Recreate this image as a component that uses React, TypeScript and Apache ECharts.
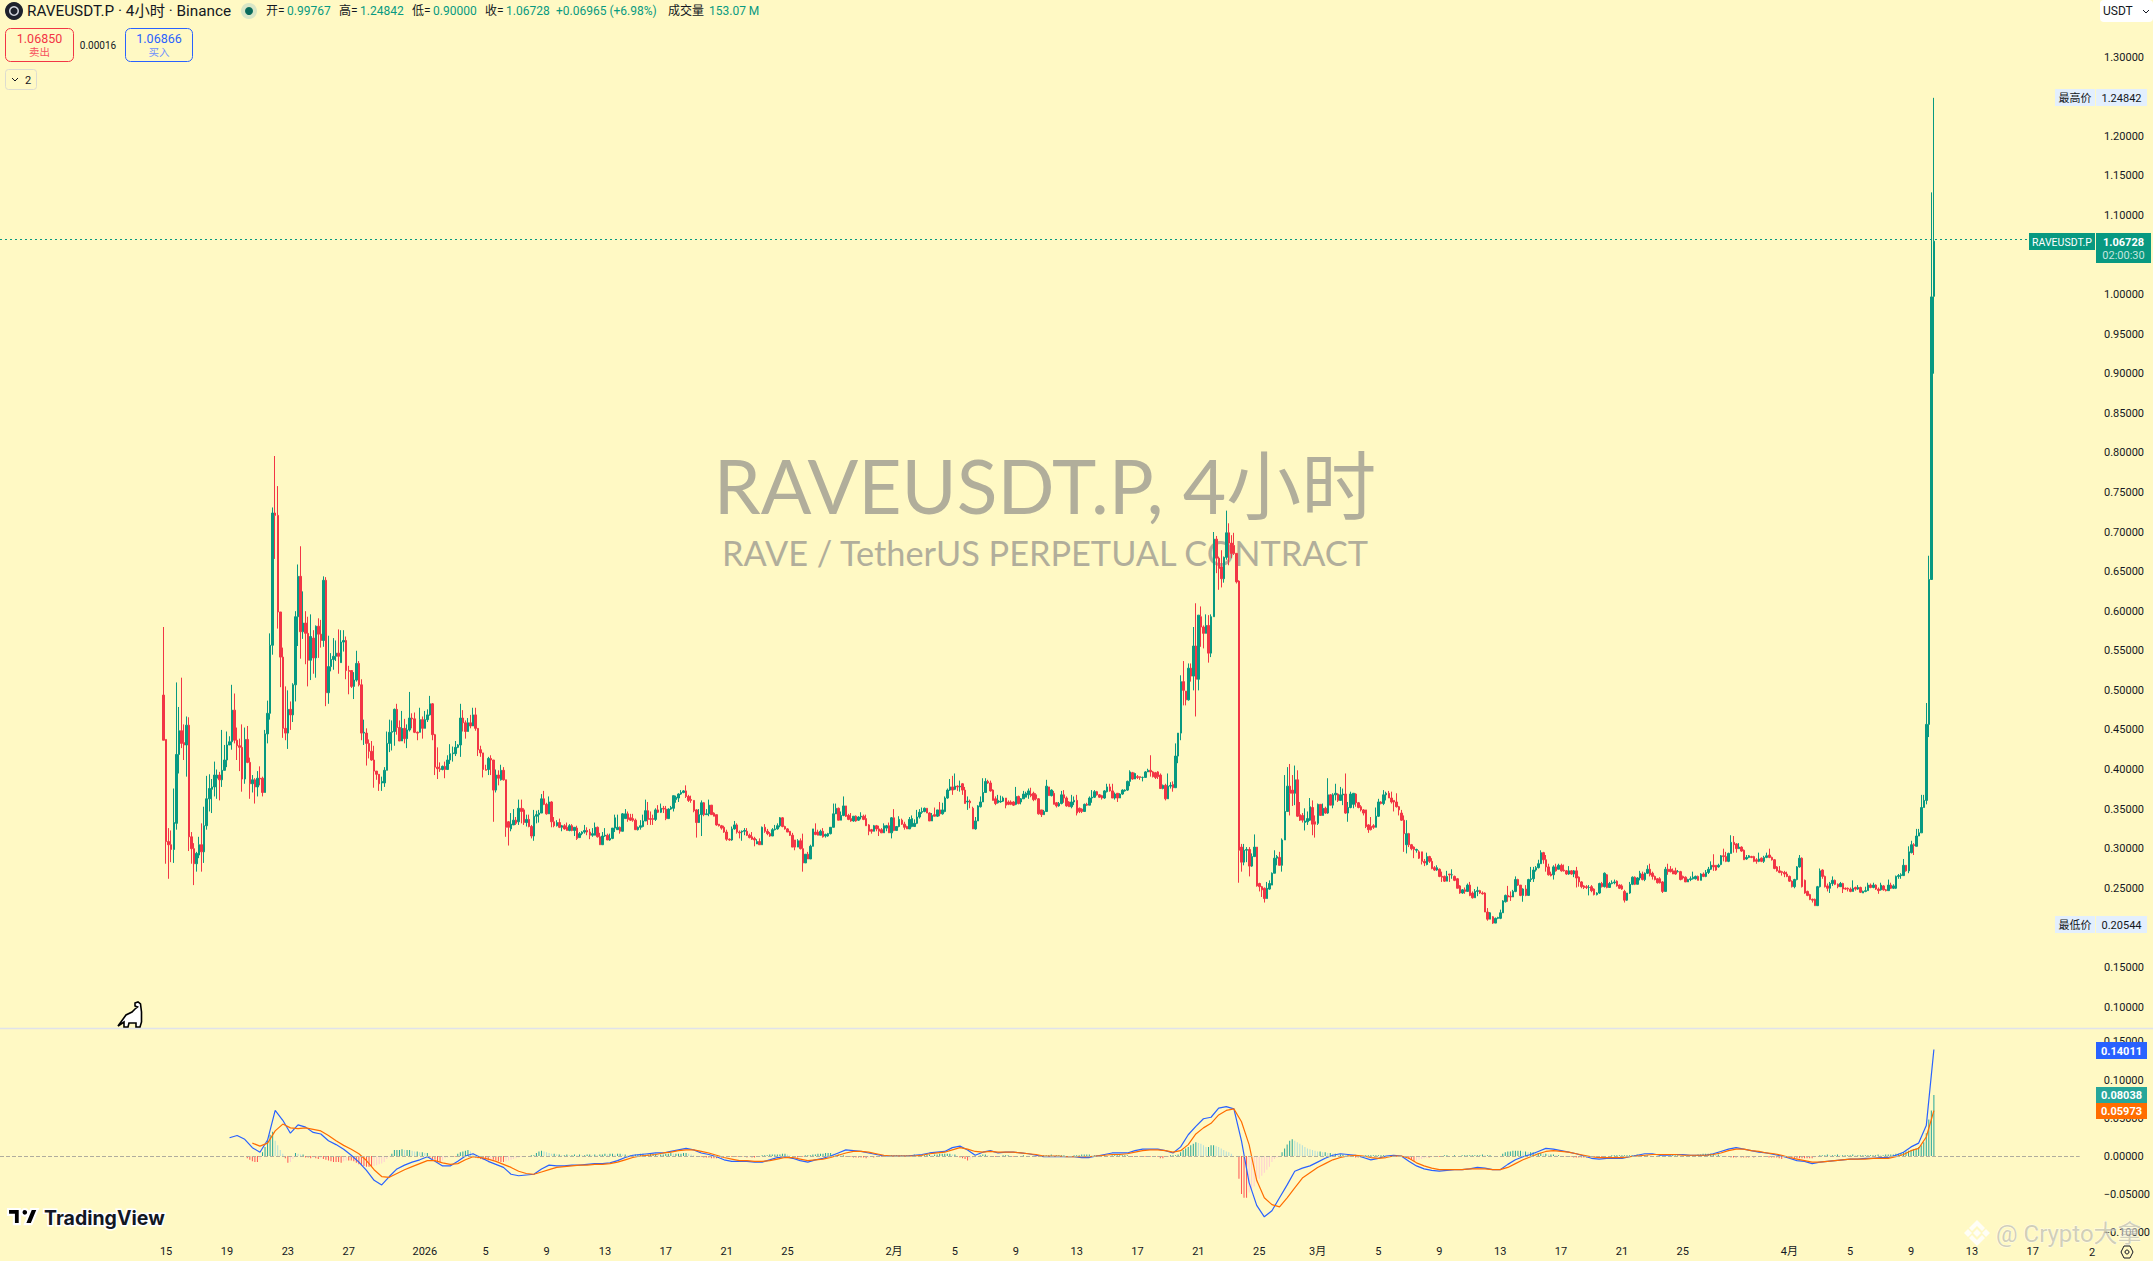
import React, { useEffect, useRef } from "react";
import * as echarts from "echarts";

// Candles: [open, close, low, high] in thousandths of a USDT.
const candlesDecember = [
[494,437,437,580],[438,309,281,438],[309,305,262,326],[305,299,283,323],[299,333,282,376],[332,419,324,510],[419,449,395,479],[449,433,427,516],[434,431,412,457],[431,456,391,467],
[456,315,297,466],[315,300,281,321],[300,281,254,307],[281,294,271,296],[292,305,288,315],[305,296,271,332],[296,329,282,353],[329,363,324,392],[363,376,347,394],[375,378,345,388],
[378,393,366,410],[389,393,363,400],[393,387,361,397],[387,399,378,450],[399,412,399,431],[412,431,403,448],[431,435,431,442],[435,475,425,507],[475,437,433,496],[437,430,412,453],
[430,428,398,439],[428,388,372,457],[388,438,382,453],[438,409,408,455],[409,382,363,415],[382,387,371,393],[387,378,357,389],[378,389,366,398],[389,388,380,404],[389,371,366,391],
[371,445,371,450],[445,471,433,487],[471,557,463,572],[557,724,545,731],[724,721,666,796],[721,599,578,758],[599,542,504,599],[542,452,440,554],[452,446,437,505],[446,476,426,500],
[476,469,450,486],[469,507,460,509],[507,593,486,600],[593,644,556,659],[644,574,540,682],[574,585,565,625],[585,572,533,600],[572,538,505,593],[538,568,513,596],[566,541,521,576],
[541,581,516,582],[581,571,541,591],[571,563,554,589],[563,639,555,644],[639,497,480,643],[497,530,483,569],[530,539,524,547],[539,543,526,566],[543,547,537,563],[547,543,521,577],
[535,561,535,576],[561,563,549,576],[563,525,514,568],[525,524,495,531],[525,505,503,525],[505,513,489,523],[513,534,511,550],[534,507,505,537],[507,446,437,514],[446,447,431,463],
[446,433,405,452],[433,423,414,438],[423,412,411,436],[412,398,377,430],[398,394,387,398],[394,382,373,394],[383,385,373,391],[383,399,378,403],[399,433,399,448],[433,447,422,463],
[447,448,424,462],[448,476,430,477],[476,453,444,483],[453,436,436,462],[436,452,436,474],[452,439,433,464],[439,450,427,457],[450,465,448,498],[465,464,452,471],[464,447,446,472],
[447,446,437,448],[447,463,447,478],[463,452,439,467],[452,463,452,474],[463,469,460,476],[469,483,468,493],[483,444,437,484],[444,403,393,445],[403,401,388,428],[401,400,397,409],
[400,404,399,405],[404,400,389,410],[400,412,400,418],[412,420,407,432],[420,421,410,429],[420,428,417,436],[428,431,427,432],[431,465,416,483],[465,459,448,475],[459,448,439,462],
[448,459,448,465],[459,455,452,469],[455,469,455,478],[469,452,449,478],[452,425,417,452],[425,421,416,430],[421,400,390,421],[400,399,399,406],[400,414,393,416],[414,412,393,418],
[412,374,334,412],[374,393,371,400],[393,389,380,399],
];
const candlesJanuary = [
[387,399,386,406],[399,387,386,403],[387,327,315,387],[334,327,304,335],[325,331,322,345],[330,336,330,350],[336,332,330,340],[334,351,330,362],[351,347,332,362],[349,333,330,351],
[333,337,328,343],[337,328,327,343],[328,316,313,330],[316,341,310,349],[341,343,332,348],[343,345,333,349],[345,363,345,369],[363,356,355,373],[356,344,343,358],[344,359,344,366],
[359,334,327,360],[334,329,327,340],[329,333,328,336],[333,327,326,338],[327,329,322,330],[329,325,324,331],[327,323,323,333],[323,329,322,331],[329,323,322,331],[323,327,316,327],
[326,313,311,329],[314,319,314,321],[319,321,317,322],[321,323,319,330],[323,321,317,327],[321,317,312,325],[317,319,315,326],[317,327,317,333],[327,315,314,328],[315,305,305,320],
[305,316,305,321],[316,317,315,326],[317,311,311,319],[311,313,310,319],[313,326,312,326],[326,339,321,343],[324,327,324,343],[327,322,319,328],[322,344,322,345],[338,344,338,350],
[344,337,334,347],[339,336,335,344],[338,336,334,344],[336,324,324,338],[324,327,323,328],[327,329,324,336],[328,335,327,343],[335,348,335,362],[348,337,330,359],[338,337,330,347],
[338,337,330,343],[337,349,335,351],[349,346,345,355],[346,351,345,357],[351,350,345,354],[350,338,336,354],[338,350,338,351],[350,352,349,354],[351,367,347,367],[362,365,358,367],
[364,369,359,370],[369,371,368,374],[371,373,370,374],[373,366,364,380],[366,361,359,368],[362,361,358,367],[361,348,346,361],[349,333,314,350],[333,343,335,350],[343,358,316,361],
[358,343,341,359],[343,344,343,350],[344,355,341,362],[355,343,343,355],[345,341,341,346],[343,330,329,343],[331,329,328,331],[329,326,324,330],[327,321,320,329],[321,312,310,324],
[312,311,310,313],[311,325,310,328],[325,330,324,335],[330,321,319,332],[321,320,313,323],[321,322,310,323],[322,323,317,326],[322,317,316,326],[317,314,313,319],[315,312,311,321],
[313,311,303,315],[306,309,306,312],[309,305,305,313],[305,327,305,328],[327,322,320,331],[322,319,317,325],[319,316,315,321],[316,324,316,326],[324,325,323,330],[325,329,324,332],
[329,339,327,340],[339,328,327,340],[328,325,324,329],[325,321,321,326],[322,317,316,322],[317,302,302,320],[311,302,298,311],[302,310,302,312],[310,300,299,313],[300,282,271,319],
[282,293,282,293],[293,287,287,296],[287,303,287,305],[303,325,303,325],[321,318,317,332],[321,317,317,324],[317,322,317,324],[322,315,314,326],[316,318,314,319],[316,319,315,320],
[319,327,318,327],[327,344,327,357],[344,351,345,357],[351,336,336,352],[336,342,336,347],[342,354,341,366],[354,341,340,354],[342,337,336,344],[338,335,334,345],[335,341,334,341],
[341,335,334,342],[336,340,335,341],[340,341,337,346],[341,337,336,343],[338,329,329,343],[330,322,317,331],[324,322,319,325],[322,329,322,330],[329,325,322,330],[325,322,316,329],
[324,320,320,326],[320,329,320,332],[326,329,322,330],[329,320,320,333],[320,339,313,340],[339,323,322,350],[323,328,323,328],[328,337,327,341],[336,331,330,338],[331,327,324,334],
[328,325,325,329],[325,337,325,340],[328,338,327,342],[328,332,328,337],[332,340,331,349],[340,346,338,350],[346,347,344,352],[347,351,346,352],[351,345,345,351],[345,335,335,346],
[335,342,335,345],[343,341,341,352],[341,349,340,349],[349,344,341,359],[344,349,343,358],[347,364,346,366],[364,374,363,376],[374,378,373,388],[378,374,368,392],[375,379,374,395],
[379,378,373,380],[378,379,372,386],[382,374,368,383],[374,357,357,378],[359,360,349,366],[360,358,351,362],[351,325,325,353],[325,335,324,340],[335,354,335,355],[353,359,352,366],
[359,371,359,389],[371,385,371,389],[385,383,382,387],[383,373,372,386],[374,361,361,375],[363,357,355,366],[358,361,357,368],[359,360,358,367],[360,364,359,366],[364,355,351,364],
[359,356,355,361],[359,356,355,361],[359,355,354,360],[356,366,355,378],[366,357,356,367],
];
const candlesFebruary = [
[359,363,356,364],[363,369,363,373],[365,370,365,372],[368,373,363,376],[369,367,365,377],[370,362,360,372],[368,363,361,370],[363,344,343,364],[349,343,340,349],[343,347,343,349],
[347,379,347,387],[378,367,367,378],[367,374,366,375],[370,356,356,373],[358,354,352,359],[354,357,353,359],[357,368,356,373],[368,364,358,374],[364,354,353,366],[359,353,353,360],
[353,359,351,368],[359,361,355,366],[361,345,342,368],[351,347,345,352],[350,347,345,351],[347,356,347,357],[356,355,354,358],[355,364,355,366],[364,365,358,374],[365,372,364,374],
[372,368,367,373],[368,365,364,369],[367,364,362,368],[364,373,363,374],[372,378,371,382],[378,373,372,382],[373,364,364,382],[364,369,362,371],[370,364,359,370],[364,369,364,370],
[369,374,368,375],[373,374,372,375],[374,385,373,386],[385,397,379,399],[396,388,387,397],[388,395,388,396],[391,390,388,393],[391,390,387,391],[390,390,385,391],[390,397,390,398],
[397,399,397,401],[399,397,391,418],[397,391,390,398],[396,390,388,397],[397,391,388,398],[393,376,376,395],[376,380,375,381],[380,363,361,382],[363,379,363,395],[379,380,376,384],
[381,377,372,385],[377,417,377,433],[417,446,408,446],[446,511,437,519],[511,500,481,537],[499,488,481,498],[488,528,487,534],[528,518,511,534],[518,556,500,580],[556,514,467,610],
[514,595,500,595],[593,580,555,606],[580,572,553,582],[572,582,572,596],[582,547,535,595],[547,593,542,596],[593,691,593,700],[691,667,648,695],[667,654,627,669],[656,641,630,677],
[641,668,636,669],[668,699,665,727],[699,686,658,711],[686,673,667,696],[683,673,671,699],[673,637,635,673],[638,298,257,639],[302,283,271,306],[283,298,279,306],[298,299,283,302],
[299,278,265,302],[278,290,277,294],[290,302,290,318],[302,253,252,302],[256,252,246,257],[252,248,239,253],[250,237,232,251],[237,250,237,258],[249,256,248,260],[254,269,254,270],
[269,288,269,298],[288,290,279,292],[289,279,279,296],[279,311,271,313],[311,347,311,393],[347,379,347,403],[379,370,342,407],[374,370,354,393],[370,387,355,405],[387,341,340,399],
[343,336,335,359],[342,336,333,345],[333,335,323,351],[334,338,330,347],[336,353,335,364],[352,331,317,361],[334,331,314,342],[332,356,330,357],[356,342,342,356],[342,351,342,357],
[351,345,344,353],[345,368,344,389],[368,355,355,369],[355,368,351,370],[368,370,361,382],[369,361,359,370],[361,368,361,378],[368,369,355,376],[369,345,344,395],[345,352,334,359],
[352,369,351,372],[356,370,351,370],[369,358,353,370],[358,352,351,359],[353,349,347,355],[349,345,342,350],[349,328,326,349],[330,324,320,331],[328,324,323,340],[329,327,325,331],
[327,341,327,352],[341,359,340,363],[359,357,356,360],[357,368,355,374],[368,370,361,372],[370,364,364,373],[364,359,357,372],[361,359,347,361],[359,353,352,370],[353,349,342,354],
[345,336,335,349],[336,319,296,342],[305,319,294,336],[319,305,302,320],[305,300,298,306],[302,299,288,303],[298,299,295,300],[296,288,287,298],
];
const candlesMarch = [
[296,284,280,296],[284,282,278,287],[280,290,279,295],[290,284,282,291],[284,275,274,288],[276,273,272,278],[273,276,272,279],[274,265,264,275],[265,264,258,271],[265,259,258,266],
[259,265,259,272],[268,267,258,268],[267,267,262,274],[265,260,259,266],[262,250,250,263],[253,244,243,254],[244,248,243,249],[248,246,243,251],[246,254,246,256],[254,241,240,258],
[244,238,237,246],[238,246,238,249],[246,247,240,252],[247,244,243,248],[244,243,242,246],[244,220,220,245],[220,211,209,225],[211,219,211,220],[214,206,205,215],[206,212,206,213],
[212,213,211,214],[212,219,211,223],[219,234,219,235],[233,241,232,242],[241,239,233,253],[240,239,234,246],[239,246,239,248],[246,261,245,265],[261,254,253,262],[254,241,240,254],
[241,249,233,250],[249,241,240,254],[241,261,241,262],[261,262,258,277],[262,273,258,277],[273,276,271,278],[276,281,275,286],[281,295,281,298],[295,286,281,296],[286,277,271,292],
[277,267,266,281],[268,266,265,271],[267,277,261,279],[277,272,271,281],[274,279,274,281],[279,272,271,281],[273,272,271,280],[272,268,267,273],[268,272,267,278],[272,268,267,273],
[268,272,264,273],[272,263,251,277],[264,258,252,265],[258,252,250,259],[253,251,249,254],[252,251,249,254],[251,251,241,254],[252,247,245,254],[249,242,241,250],[242,244,241,245],
[244,256,243,257],[256,252,251,258],[252,269,251,270],[267,251,250,268],[251,256,251,258],[256,257,255,260],[257,258,255,261],[259,253,252,260],[254,250,249,255],[253,249,248,255],
[246,235,232,248],[235,244,234,244],[244,255,243,258],[255,264,254,265],[264,255,254,265],[255,263,255,264],[263,269,260,272],[268,261,260,271],[261,269,259,270],[269,274,268,279],
[274,267,265,281],[269,265,261,271],[265,261,260,266],[262,257,256,263],[262,257,256,264],[258,246,244,259],[246,274,246,277],[274,271,267,281],[274,271,270,278],[272,268,268,275],
[272,268,267,276],[271,271,270,273],[271,261,260,272],[265,263,261,266],[264,258,258,265],[258,261,258,262],[261,262,259,265],[262,264,261,271],[262,265,261,266],[265,260,260,266],
[260,268,260,269],[268,265,264,270],[265,270,264,273],[270,274,268,277],[274,279,273,284],[279,277,272,293],[279,273,272,279],[277,279,276,281],[280,291,279,292],[291,290,284,300],
[290,284,283,296],[284,294,283,295],[294,308,294,317],[308,305,295,316],[306,300,295,307],[300,302,300,307],[302,297,296,303],[298,286,286,299],[287,289,286,292],[289,291,288,292],
[290,289,288,291],[290,284,283,291],[286,284,281,288],[284,287,283,295],[288,284,283,289],[284,289,282,291],[289,291,288,295],[292,289,288,300],[289,286,285,290],[286,275,274,287],
[277,272,271,278],[272,270,269,278],[271,270,266,272],[270,268,264,272],[268,265,264,271],[265,259,258,266],[259,252,251,260],[252,261,250,262],[261,277,260,278],[277,288,276,292],
[288,252,251,289],[260,244,243,261],[246,241,240,247],[242,236,235,243],[236,235,232,237],[236,228,228,237],[228,252,228,253],[252,272,251,275],[273,265,262,274],[265,252,251,266],
[253,250,246,256],[250,256,244,258],[256,260,253,265],[260,255,254,261],[255,252,250,256],[252,256,252,258],[256,249,244,257],[250,249,248,251],[250,249,246,251],[249,246,245,251],
[246,250,246,260],[251,249,247,252],[249,251,248,254],[251,245,244,252],[244,246,244,247],[246,247,245,252],[247,254,247,257],[254,251,250,256],[251,254,250,257],[254,249,248,255],
[249,247,243,251],[248,254,247,257],[253,248,247,254],[248,247,246,249],[247,254,247,261],[254,250,249,257],[250,253,249,255],[250,265,249,266],[265,266,262,268],[266,267,262,269],
[266,279,266,287],[279,272,271,279],[272,296,269,303],[295,305,294,310],[305,304,292,307],[303,316,303,325],[316,320,316,325],[320,352,320,368],[352,361,352,368],[361,457,356,484],
[457,640,441,670],[640,997,640,1129],[997.67,1067.28,900,1248.42],
];

const candleSegments: [number, (number[])[]][] = [[0, candlesDecember], [133, candlesJanuary], [338, candlesFebruary], [496, candlesMarch]];

// MACD lines in thousandths, read every third bar.
const macdEarly = [24,27,22,11,5,21,60,47,30,41,38,31,29,20,15,9,1,-8,-19,-32,-38,-27,-17,-12,-8,-5,-1,-7,-13,-13,-7,0,3,-2,-7,-11,-15,-24,-26,-25,-24,-17,-12,-13,-13,-12,-12,-11,-10,-10,-9,-6,-2,1,2,3,4,4,6,8,10,8,4,2,-1,-5,-7,-7,-7,-8,-8,-5,-2,-1,-3,-6,-8,-5,-3,0,4,8,7,6,4,2,0,0,0,0,1,2,4,5,6,11,13,8,1,5,7,4];
const macdLate = [5,5,4,3,1,-1,-1,-1,-1,-1,-2,-2,0,2,4,4,4,7,9,9,9,7,4,12,28,39,49,51,63,65,62,20,-35,-65,-80,-72,-55,-38,-20,-16,-13,-8,-3,1,3,2,1,-2,-5,-3,0,1,0,-7,-13,-17,-19,-20,-19,-18,-18,-17,-15,-16,-18,-18,-11,-5,-1,2,6,10,9,7,5,3,0,-3,-4,-3,-3,-3,-1,1,3,3,1,1,2,2,1,1,1,3,6,9,11,9,7,5,4,2,0,-3,-6,-7,-10,-8,-7,-6,-5,-4,-4,-3,-3,-2,-2,1,5,12,17,40,140.11];
const signalEarly = [17,13,17,33,42,37,36,37,35,33,27,20,14,9,3,-6,-18,-27,-28,-23,-18,-14,-10,-6,-6,-9,-11,-10,-5,-1,-2,-4,-7,-11,-15,-20,-23,-24,-21,-18,-15,-14,-13,-12,-12,-11,-11,-10,-8,-5,-2,0,1,2,4,5,7,8,8,6,4,1,-2,-4,-6,-6,-7,-7,-6,-4,-2,-2,-4,-6,-5,-4,-2,1,4,6,6,5,3,1,0,0,0,0,1,3,4,5,8,11,9,6,5,6,5];
const signalLate = [5,5,4,3,2,0,0,0,-1,-1,-1,-1,0,1,2,2,3,5,7,8,8,7,5,7,15,29,37,43,54,60,62,45,15,-32,-55,-64,-67,-55,-42,-29,-22,-15,-10,-5,-2,0,1,0,-2,-3,-2,0,0,-3,-9,-13,-16,-18,-18,-18,-18,-17,-17,-17,-18,-18,-15,-10,-5,-1,3,6,7,6,5,3,1,-1,-2,-2,-2,-2,-1,0,1,2,2,2,2,1,1,1,1,2,4,7,9,9,7,6,4,3,1,-2,-4,-6,-8,-8,-7,-6,-5,-4,-4,-4,-3,-3,-3,-1,2,7,10,25,59.73];

// MACD histogram in thousandths: [first bar, values per bar].
const histogramEarly: [number, number[]][] = [
  [33, [-3,-5,-7,-8,-8,-5]],
  [39, [5,12,20,28,32,20,14,8,3]],
  [48, [-3,-9,-8,-4]],
  [52, [4,3,2,2]],
  [56, [-2,-2,-3,-2,-3,-4,-3,-4,-5,-6,-7,-8,-8,-8,-9,-7,-6,-6,-6,-7,-9,-11,-12,-13,-14,-14,-14,-13,-12,-11,-10,-8,-4,-1]],
  [90, [3,8,8,8,9,8,8,8,7,6,6,5,5,4,4]],
  [105, [-2,-4,-5,-7,-8,-6,-3,-2,-1,-1,-1]],
  [116, [3,5,6,7,8,6,3]],
  [123, [-2,-3,-4,-5,-5,-6,-5,-5,-6,-7,-8,-8,-7,-6,-5,-4,-3,-2,-1,-1,0,0,1,1]],
  [147, [4,6,7,6,5,4,3,3,2,2,1,1,2,1,1,2,1,2,1,1,2,2,1,2,1,2,2,3,2,3,3,2,3,3,2,2,1,1,1,2,2,3,3,2,2,3,3,3,2,2,2,3,3,4,3,3,3,3,4,4,3,2,1,0,-1,-1,-2]],
  [214, [-2,-2,-3,-3,-3,-2,-2,-1,-1,-1,-1,-1,-1,-1,-1,-1,-2,-1,-2,-2,-1,-1,1,1,1,2,2,2,2,2,3,3,2,1,-1,-2,-2,-1,-1,1,1,1,2,2,3,3,3,4,4,4,3,2,2,1,1,-1,-1,-1,-2,-2,-2,-2,-2,-3,-2,-1,-2,-1,-1,-1,1,0]],
  [286, [0,1,1,1,1,1,1,1,1,1,2,1,1,1,1,2,2,1,2,2,3,3,3,3,3,2,2,-1,-2,-3,-4,-6,-5,-3,-2,-1,1,2,2,1,-1,-1,-1,0,0]],
];
const histogramLate: [number, number[]][] = [
  [331, [1,1,1,0,-1,-1,0,0,1,0,-1,0,0,-1,-1,0,1,1,1,2,1,1,1,1,1,-1,-1,0,1,1,1,2,2,2,2,1,1,1,1,1,1,0,0,1,1,1,1,1,1,1,-1,-1,-1,-1,-1,-1,-1,-1,-1,-1,-1,-1,-3,-3,-1,-1,1,1,1,2]],
  [401, [5,8,10,12,14,16,18,17,16,14,12,12,14,14,13,12,10,8,6,5,3]],
  [424, [-30,-50,-55,-55,-48,-45,-40,-35,-30,-26,-22,-18,-14,-8,-4,-2]],
  [441, [5,10,15,20,22,20,18,16,14,12,10,9,8,7,6,6,5,5,4,4,3,3,2,2,2]],
  [466, [1,1,0,-1,-2,-2,-1,-1,1,1,1,1,1,1,1,1,0,-1,-1,-1,-1,-1,-1,-1,-2]],
  [491, [-4,-5,-7,-6,-5,-4,-3,-2,-2,-1,-1,-1,-1,-1]],
  [505, [1,1,0,0,1,0,0,1,1,1,1,1,1,1,1,2,1,1,1,0,0,0,0]],
  [528, [3,5,6,6,7,7,7,7,6,6,5,5,5,4,4,4,3,3,2,2,2,1,1,0,0,-1,-1,-1,-2,-2,-2,-2,-2,-2,-1,-1,-1,-1,-1,-1,-1,0,0]],
  [571, [1,1,1,1,1,1,1,1,1,1,2,1,1,1,1,0,0,0,0,1,0,0,0,1,1,1,1,0,0,1,1,1,1,1,2,2,3,3,3,3,3,2,2,1,0,-1,-1,-2,-2,-2,-1,-2,-2,-2,-2,-1,-2,-1,-1,-1]],
  [631, [-1,-1,-2,-2,-2,-2,-3,-4,-3,-2,-2,-3,-3,-3,-3,-3,-3,-3,-3,-3,-2,-1]],
  [653, [1,1,1,2,1,1,1,2,1,1,1,1,1,2,1,1,1,1,1,1,1,1,1,2,1,1,2,2,2]],
  [682, [2,3,3,4,5,6,7,8,9,10,12,14,18,30,48,60,80.38]],
];

// 0.20, 1.05 and 1.25 are hidden under the price tags in the reference.
const priceTicks = [0.1,0.15,0.25,0.3,0.35,0.4,0.45,0.5,0.55,0.6,0.65,0.7,0.75,0.8,0.85,0.9,0.95,1,1.1,1.15,1.2,1.3];
const macdTicks = [-0.1,-0.05,0,0.05,0.1,0.15];
const dateTicks: [string, number][] = [["15",0],["19",4],["23",8],["27",12],["2026",17],["5",21],["9",25],["13",29],["17",33],["21",37],["25",41],["2月",48],["5",52],["9",56],["13",60],["17",64],["21",68],["25",72],["3月",76],["5",80],["9",84],["13",88],["17",92],["21",96],["25",100],["4月",107],["5",111],["9",115],["13",119],["17",123]];
const lastPrice = 1.06728;

const SLOTS = 820;
const BAR0 = 64;
const MACD_FIRST = 26;
const MACD_LATE_FIRST = 332;
const SIGNAL_FIRST = 35;
const BG = "#fff9c4";
const UP = "#089981";
const DOWN = "#f23645";
const FONT = "Roboto, 'Noto Sans CJK SC', sans-serif";
const INK = "#131722";

const candleSlots: any[] = Array.from({ length: SLOTS }, () => ["-", "-", "-", "-"]);
candleSegments.forEach(([start, rows]) => rows.forEach((r, k) => {
  candleSlots[BAR0 + start + k] = r.map((v) => v / 1000);
}));
const xLabels: string[] = Array.from({ length: SLOTS }, () => "");
dateTicks.forEach(([t, d]) => { xLabels[Math.round(65 + d * 5.98)] = t; });

const linePoints = (first: number, vals: number[]) => vals.map((v, k) => [BAR0 + first + 3 * k, v / 1000]);
const histSlots: (number | null)[] = Array.from({ length: SLOTS }, () => null);
[...histogramEarly, ...histogramLate].forEach(([start, vals]) => vals.forEach((v, k) => {
  histSlots[BAR0 + start + k] = v / 1000;
}));
const histData = histSlots.map((v, i) => {
  if (v === null) return null;
  const prev = histSlots[i - 1] ?? 0;
  const color = v >= 0 ? (v >= prev ? "#26a69a" : "#b2dfdb") : (v <= prev ? "#ff5252" : "#ffcdd2");
  return { value: v, itemStyle: { color } };
});

echarts.graphic.registerShape("tvMark", echarts.graphic.extendPath("M14 22H7V11H0V4h14v18zM28 22h-8l7.5-18h8L28 22zM16 8a4 4 0 1 0 8 0a4 4 0 1 0-8 0z" as any, {}) as any);
echarts.graphic.registerShape("dino", echarts.graphic.extendPath("M17 1L20 0L22.5 2L23.5 10L23.5 20L22 25L18 25L18 21L11 21L10 25L6 25L6 20L0 24L8 13L14 10L17 7L19.5 5L17 4Z" as any, {}) as any);

const txt = (text: string, x: number, y: number, fill: string, fontSize: number, extra: any = {}) => ({
  type: "text", x, y, z: 100, silent: true,
  style: { text, fill, fontSize, fontFamily: FONT, align: "left", verticalAlign: "middle", ...extra },
});
const box = (x: number, y: number, width: number, height: number, fill: string, extra: any = {}, r = 0) => ({
  type: "rect", z: 99, silent: true, shape: { x, y, width, height, r }, style: { fill, ...extra },
});
const poly = (points: number[][], fill: string) => ({ type: "polygon", z: 100, silent: true, shape: { points }, style: { fill } });
const LOGO = "rgba(255,255,255,0.85)";

const graphicElements: any[] = [
  { type: "text", x: 1045, y: 485, z: 0, silent: true, style: { text: "RAVEUSDT.P, 4小时", fill: "#b1ae9b", fontSize: 75, fontFamily: "Lato, 'Noto Sans CJK SC', sans-serif", align: "center", verticalAlign: "middle" } },
  { type: "text", x: 1045, y: 552, z: 0, silent: true, style: { text: "RAVE / TetherUS PERPETUAL CONTRACT", fill: "#b1ae9b", fontSize: 34.3, fontFamily: "Lato, sans-serif", align: "center", verticalAlign: "middle" } },

  { type: "line", z: 99, silent: true, shape: { x1: 0, y1: 1028.5, x2: 2153, y2: 1028.5 }, style: { stroke: "#e0e3eb", lineWidth: 1.5 } },

  { type: "circle", z: 99, silent: true, shape: { cx: 14, cy: 11, r: 9 }, style: { fill: "#1e222d" } },
  { type: "ring", z: 100, silent: true, shape: { cx: 14, cy: 11, r: 5, r0: 3.5 }, style: { fill: "#d1d4dc" } },
  txt("RAVEUSDT.P · 4小时 · Binance", 27, 11, INK, 15.3),
  { type: "circle", z: 99, silent: true, shape: { cx: 249, cy: 11, r: 8 }, style: { fill: "#d8e6c6" } },
  { type: "circle", z: 100, silent: true, shape: { cx: 249, cy: 11, r: 4 }, style: { fill: "#0a6b5c" } },
  txt("开=", 266, 11, INK, 12), txt("0.99767", 287, 11, UP, 12),
  txt("高=", 339, 11, INK, 12), txt("1.24842", 360, 11, UP, 12),
  txt("低=", 412, 11, INK, 12), txt("0.90000", 433, 11, UP, 12),
  txt("收=", 485, 11, INK, 12), txt("1.06728", 506, 11, UP, 12),
  txt("+0.06965 (+6.98%)", 556, 11, UP, 12),
  txt("成交量", 668, 11, INK, 12), txt("153.07 M", 709, 11, UP, 12),

  box(5.5, 28.5, 68, 33, BG, { stroke: DOWN, lineWidth: 1 }, 5),
  txt("1.06850", 39.5, 38, DOWN, 12.5, { align: "center" }),
  txt("卖出", 39.5, 52, "#f7525f", 10.5, { align: "center" }),
  txt("0.00016", 98, 45, INK, 10, { align: "center" }),
  box(125.5, 28.5, 67, 33, BG, { stroke: "#2962ff", lineWidth: 1 }, 5),
  txt("1.06866", 159, 38, "#2962ff", 12.5, { align: "center" }),
  txt("买入", 159, 52, "#6b8fff", 10.5, { align: "center" }),
  box(5.5, 69.5, 31, 20, BG, { stroke: "#dcdcd0", lineWidth: 1 }, 3),
  { type: "polyline", z: 100, silent: true, shape: { points: [[12, 78], [15, 81], [18, 78]] }, style: { stroke: INK, fill: "none", lineWidth: 1 } },
  txt("2", 25, 80, INK, 11),

  box(2100, 0, 53, 22, "#ffffff", {}, 4),
  txt("USDT", 2103, 11, INK, 12),
  { type: "polyline", z: 100, silent: true, shape: { points: [[2143, 10], [2146, 13], [2149, 10]] }, style: { stroke: INK, fill: "none", lineWidth: 1 } },

  box(2055, 89, 40, 17, "#e3effd"), txt("最高价", 2075, 98, INK, 11, { align: "center" }),
  box(2096, 89, 51, 17, "#e3effd"), txt("1.24842", 2121.5, 98, INK, 11, { align: "center" }),
  box(2029, 233, 66, 17, UP), txt("RAVEUSDT.P", 2062, 242, "#ffffff", 10.5, { align: "center" }),
  box(2096, 233, 55, 30, UP), txt("1.06728", 2123.5, 242, "#ffffff", 11, { align: "center", fontWeight: "bold" }),
  txt("02:00:30", 2123.5, 255, "#c4e6df", 11, { align: "center" }),
  box(2055, 916, 40, 17, "#e3effd"), txt("最低价", 2075, 925, INK, 11, { align: "center" }),
  box(2096, 916, 51, 17, "#e3effd"), txt("0.20544", 2121.5, 925, INK, 11, { align: "center" }),
  box(2096, 1042, 51, 17, "#2962ff"), txt("0.14011", 2121.5, 1051, "#ffffff", 11, { align: "center", fontWeight: "bold" }),
  box(2096, 1087, 51, 16, "#26a69a"), txt("0.08038", 2121.5, 1095.5, "#ffffff", 11, { align: "center", fontWeight: "bold" }),
  box(2096, 1103, 51, 16, "#ff6d00"), txt("0.05973", 2121.5, 1111.5, "#ffffff", 11, { align: "center", fontWeight: "bold" }),

  { type: "dino", x: 118, y: 1002, z: 100, silent: true, style: { fill: "#ffffff", stroke: "#000000", lineWidth: 1.6 } },
  { type: "tvMark", x: 8, y: 1205.6, scaleX: 0.84, scaleY: 0.84, z: 100, silent: true, style: { fill: "#000000", stroke: "#ffffff", lineWidth: 2.5 } },
  txt("TradingView", 44, 1218, "#131722", 19.5, { fontFamily: "Inter, sans-serif", fontWeight: "bold", stroke: "#ffffff", lineWidth: 3 }),

  poly([[1977, 1229], [1981, 1233], [1977, 1237], [1973, 1233]], LOGO),
  poly([[1968, 1229], [1972, 1233], [1968, 1237], [1964, 1233]], LOGO),
  poly([[1986, 1229], [1990, 1233], [1986, 1237], [1982, 1233]], LOGO),
  poly([[1977, 1220], [1985, 1228], [1982, 1231], [1977, 1226], [1972, 1231], [1969, 1228]], LOGO),
  poly([[1977, 1246], [1985, 1238], [1982, 1235], [1977, 1240], [1972, 1235], [1969, 1238]], LOGO),
  txt("@ Crypto大拿", 1996, 1234, "rgba(170,170,160,0.55)", 24, { stroke: "rgba(255,255,255,0.6)", lineWidth: 1 }),

  txt("2", 2092, 1252, INK, 11, { align: "center" }),
  { type: "polygon", z: 100, silent: true, shape: { points: [[2121, 1252], [2124, 1246], [2130, 1246], [2133, 1252], [2130, 1258], [2124, 1258]] }, style: { fill: "none", stroke: INK, lineWidth: 1 } },
  { type: "circle", z: 100, silent: true, shape: { cx: 2127, cy: 1252, r: 2 }, style: { fill: "none", stroke: INK, lineWidth: 1 } },
];

export default function App() {
  const ref = useRef<HTMLDivElement>(null);
  useEffect(() => {
    const chart = echarts.init(ref.current!, undefined, { renderer: "svg" });
    const yLabelCommon = { color: INK, fontSize: 11, fontFamily: FONT, margin: 24, align: "left" as const };
    chart.setOption({
      animation: false,
      backgroundColor: BG,
      grid: [
        { left: 0, top: 0, width: 2080, height: 1028 },
        { left: 0, top: 1029, width: 2080, height: 211 },
      ],
      xAxis: [
        { type: "category", gridIndex: 0, data: xLabels, axisLine: { show: false }, axisTick: { show: false }, axisLabel: { show: false }, splitLine: { show: false } },
        { type: "category", gridIndex: 1, data: xLabels, axisLine: { show: false }, axisTick: { show: false }, splitLine: { show: false },
          axisLabel: { show: true, interval: (_: number, v: string) => v !== "", color: INK, fontSize: 11, fontFamily: FONT, margin: 6, hideOverlap: false } },
      ],
      yAxis: [
        { type: "value", gridIndex: 0, position: "right", min: 0.0735, max: 1.372, axisLine: { show: false }, splitLine: { show: false },
          axisTick: { show: false, customValues: priceTicks },
          axisLabel: { ...yLabelCommon, customValues: priceTicks, formatter: (v: number) => v.toFixed(5) } },
        { type: "value", gridIndex: 1, position: "right", min: -0.1105, max: 0.1671, axisLine: { show: false }, splitLine: { show: false },
          axisTick: { show: false, customValues: macdTicks },
          axisLabel: { ...yLabelCommon, customValues: macdTicks, formatter: (v: number) => (v < 0 ? "−" : "") + Math.abs(v).toFixed(5) } },
      ],
      graphic: { elements: graphicElements },
      series: [
        {
          type: "candlestick", xAxisIndex: 0, yAxisIndex: 0, data: candleSlots, barWidth: 2, large: false, progressive: 0,
          itemStyle: { color: UP, color0: DOWN, borderColor: UP, borderColor0: DOWN, borderWidth: 1, borderColorDoji: UP },
          markLine: { silent: true, symbol: "none", animation: false, label: { show: false },
            lineStyle: { color: UP, type: [2, 3], width: 1 }, data: [{ yAxis: lastPrice }] },
        },
        {
          type: "bar", xAxisIndex: 1, yAxisIndex: 1, data: histData, barWidth: 1,
          markLine: { silent: true, symbol: "none", animation: false, label: { show: false },
            lineStyle: { color: "#b0ad9e", type: "dashed", width: 1 }, data: [{ yAxis: 0 }] },
        },
        { type: "line", xAxisIndex: 1, yAxisIndex: 1, showSymbol: false, lineStyle: { color: "#2962ff", width: 1.2 },
          data: [...linePoints(MACD_FIRST, macdEarly), ...linePoints(MACD_LATE_FIRST, macdLate)] },
        { type: "line", xAxisIndex: 1, yAxisIndex: 1, showSymbol: false, lineStyle: { color: "#ff6d00", width: 1.2 },
          data: [...linePoints(SIGNAL_FIRST, signalEarly), ...linePoints(MACD_LATE_FIRST, signalLate)] },
      ],
    });
    return () => chart.dispose();
  }, []);
  return <div ref={ref} style={{ position: "fixed", left: 0, top: 0, width: 2153, height: 1261 }} />;
}
